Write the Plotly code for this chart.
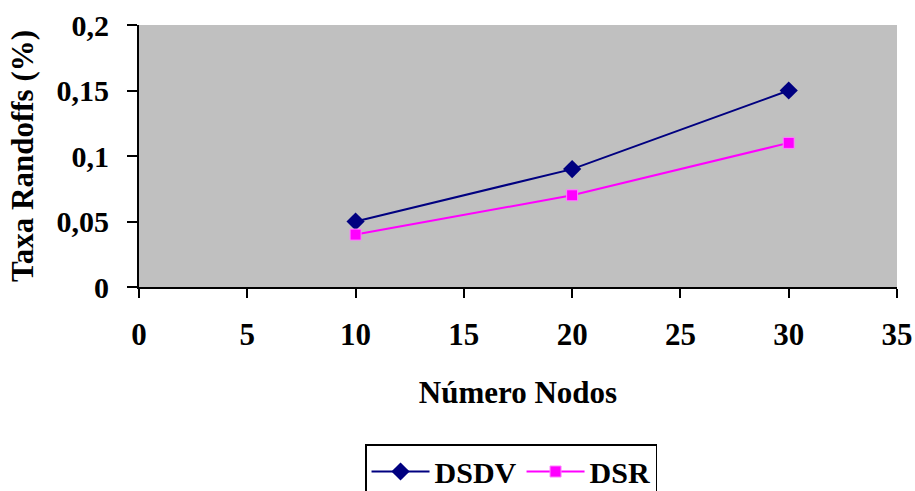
import plotly.graph_objects as go

nodos = [10, 20, 30]
dsdv = [0.05, 0.09, 0.15]
dsr = [0.04, 0.07, 0.11]
x_ticks = [0, 5, 10, 15, 20, 25, 30, 35]
y_ticks = [0, 0.05, 0.1, 0.15, 0.2]
y_labels = ["0", "0,05", "0,1", "0,15", "0,2"]

font_family = "Liberation Serif, Times New Roman, serif"

fig = go.Figure()
fig.add_trace(go.Scatter(
    x=nodos, y=dsdv, name="DSDV", mode="lines+markers",
    line=dict(color="#000080", width=2),
    marker=dict(symbol="diamond", size=14, color="#000080"),
))
fig.add_trace(go.Scatter(
    x=nodos, y=dsr, name="DSR", mode="lines+markers",
    line=dict(color="#FF00FF", width=2),
    marker=dict(symbol="square", size=11, color="#FF00FF",
                line=dict(color="#FF80FF", width=1)),
))

fig.update_layout(
    width=915, height=491,
    margin=dict(l=139, r=18, t=25, b=204, autoexpand=False),
    paper_bgcolor="white",
    plot_bgcolor="#C0C0C0",
    font=dict(family=font_family, size=31, color="black"),
    showlegend=True,
    legend=dict(
        orientation="h", xref="container", yref="container",
        x=0.5585, xanchor="center", y=0.0957, yanchor="top",
        bordercolor="black", borderwidth=1.5, bgcolor="white",
        font=dict(family=font_family, size=30, color="black", weight="bold"),
        itemwidth=58,
    ),
    xaxis=dict(
        range=[0, 35], tickvals=x_ticks, ticktext=[str(v) for v in x_ticks],
        showgrid=False, zeroline=False, showline=True, linecolor="black", linewidth=2,
        ticks="outside", ticklen=9, tickwidth=1.5, tickcolor="black",
        tickfont=dict(family=font_family, size=31, weight="bold"),
        ticklabelstandoff=10, automargin=False,
        title=dict(text="Número Nodos", font=dict(family=font_family, size=31, weight="bold"), standoff=30),
    ),
    yaxis=dict(
        range=[0, 0.2], tickvals=y_ticks, ticktext=y_labels,
        showgrid=False, zeroline=False, showline=True, linecolor="black", linewidth=2,
        ticks="outside", ticklen=10, tickwidth=1.5, tickcolor="black",
        tickfont=dict(family=font_family, size=30, weight="bold"),
        ticklabelstandoff=12, automargin=False,
        title=dict(text="Taxa Randoffs (%)", font=dict(family=font_family, size=31, weight="bold"), standoff=14),
    ),
)

fig.write_html(
    "out.html",
    config={"displayModeBar": False},
    post_script="document.body.style.margin='0';document.body.style.overflow='hidden';",
)
